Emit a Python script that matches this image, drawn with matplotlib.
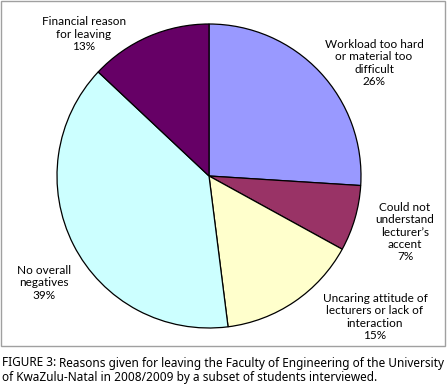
import matplotlib
matplotlib.use("Agg")
import matplotlib.pyplot as plt
from matplotlib.patches import Rectangle

# slice data, clockwise from 12 o'clock
reasons = ["Workload too hard\nor material too\ndifficult",
           "Could not\nunderstand\nlecturer\u2019s\naccent",
           "Uncaring attitude of\nlecturers or lack of\ninteraction",
           "No overall\nnegatives",
           "Financial reason\nfor leaving"]
shares = [26, 7, 15, 39, 13]
colors = ["#9999FF", "#993366", "#FFFFCC", "#CCFFFF", "#660066"]

# label centres in pixels (x, y from top)
label_pos = [(374, 63), (405, 232), (375, 317), (44, 283), (84, 34)]

caption_bold = "FIGURE 3:"
caption_1 = "Reasons given for leaving the Faculty of Engineering of the University"
caption_2 = "of KwaZulu-Natal in 2008/2009 by a subset of students interviewed."

W, H = 447, 387
fig = plt.figure(figsize=(W / 100, H / 100), dpi=100)
fig.patch.set_facecolor("white")

# frame around the chart
fig.patches.append(Rectangle((1 / W, (H - 346) / H), 444 / W, 345 / H,
                             transform=fig.transFigure, fill=False,
                             edgecolor="#A0A0A0", linewidth=1.0))

cx, cy, r = 209, 176, 152
ax = fig.add_axes([(cx - r) / W, (H - cy - r) / H, 2 * r / W, 2 * r / H])
ax.pie(shares, colors=colors, startangle=90, counterclock=False,
       wedgeprops=dict(edgecolor="black", linewidth=0.9))
ax.set_xlim(-1, 1)
ax.set_ylim(-1, 1)
ax.set_aspect("equal")
ax.axis("off")

for txt, val, (px, py) in zip(reasons, shares, label_pos):
    fig.text(px / W, 1 - py / H, f"{txt}\n{val}%", ha="center", va="center",
             fontsize=8.5, family="Lato", color="black", linespacing=1.12)

# caption - shrink font until first line fits the width
fs = 9.0
fam = "Noto Sans"
while True:
    t1 = fig.text(2 / W, 1 - 363 / H, caption_bold, fontsize=fs, fontweight="bold",
                  family=fam, va="center", ha="left")
    fig.canvas.draw()
    bb = t1.get_window_extent()
    t2 = fig.text((bb.x1 + 3) / W, 1 - 363 / H, caption_1,
                  fontsize=fs, family=fam, va="center", ha="left")
    fig.canvas.draw()
    if t2.get_window_extent().x1 <= 445 or fs < 6:
        break
    t1.remove()
    t2.remove()
    fs -= 0.1
fig.text(2 / W, 1 - 378 / H, caption_2,
         fontsize=fs, family=fam, va="center", ha="left")

fig.savefig("out.png", dpi=100)
